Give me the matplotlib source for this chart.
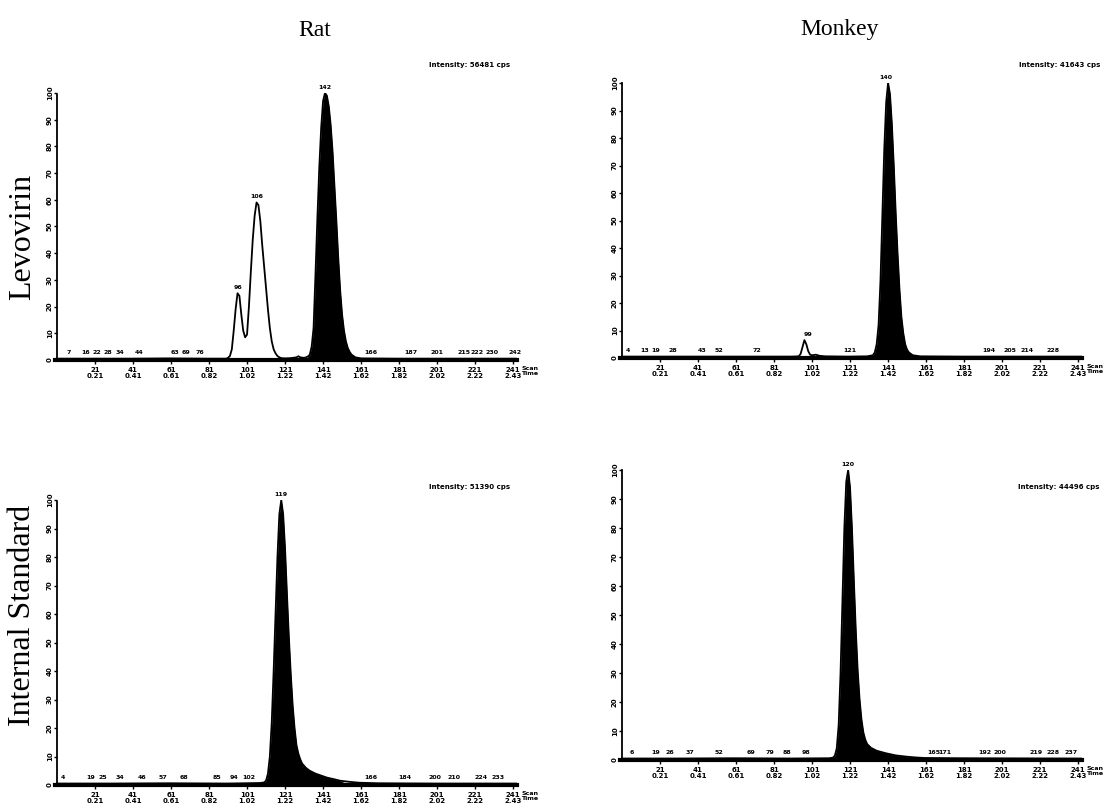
import matplotlib
matplotlib.use("Agg")
import matplotlib.pyplot as plt

W, H = 1105, 811

# ---------------- data ----------------
col_titles = ["Rat", "Monkey"]
row_titles = ["Levovirin", "Internal Standard"]

scan_ticks = [21, 41, 61, 81, 101, 121, 141, 161, 181, 201, 221, 241]
time_ticks = ["0.21", "0.41", "0.61", "0.82", "1.02", "1.22", "1.42", "1.62", "1.82", "2.02", "2.22", "2.43"]
y_ticks = [0, 10, 20, 30, 40, 50, 60, 70, 80, 90, 100]

# Rat - Levovirin
rat_lev_scan = [1, 20, 40, 60, 80, 90, 91, 92, 93, 94, 95, 96, 97, 98, 99, 100, 101, 102, 103, 104, 105,
                106, 107, 108, 109, 110, 111, 112, 113, 114, 115, 116, 117, 118, 119, 121, 124, 127, 128,
                129, 131, 132, 133, 134, 135, 136, 137, 138, 139, 140, 141, 142, 143, 144, 145, 146, 147,
                148, 149, 150, 151, 152, 153, 154, 155, 156, 158, 161, 180, 200, 220, 243]
rat_lev_int = [0.5, 0.5, 0.5, 0.6, 0.5, 0.5, 0.8, 1.5, 4, 11, 19, 25, 24, 17, 11, 8.5, 9.5, 20, 33, 45, 54,
               59, 58, 52, 43, 35, 27, 19, 12, 7, 4, 2.5, 1.5, 1.0, 0.7, 0.6, 0.7, 1.0, 1.4,
               1.0, 0.8, 1.0, 1.3, 2, 5, 12, 32, 53, 72, 87, 97, 100, 99, 95, 88, 78, 65,
               52, 38, 26, 17, 11, 7, 4.5, 3, 2, 1, 0.6, 0.5, 0.5, 0.5, 0.5]
rat_lev_fill = (133, 158)
rat_lev_peaks = [7, 16, 22, 28, 34, 44, 63, 69, 76, 166, 187, 201, 215, 222, 230, 242]
rat_lev_apex = [(96, 25), (106, 59), (142, 100)]
rat_lev_intensity = "Intensity: 56481 cps"

# Monkey - Levovirin
mky_lev_scan = [1, 30, 60, 90, 94, 95, 96, 97, 98, 99, 100, 101, 103, 105, 108, 120, 130, 133, 134, 135,
                136, 137, 138, 139, 140, 141, 142, 143, 144, 145, 146, 147, 148, 149, 150, 151, 152, 154,
                158, 180, 210, 243]
mky_lev_int = [0.5, 0.5, 0.5, 0.5, 0.6, 1.5, 4, 6.5, 5, 2.5, 1.2, 1.0, 1.2, 0.8, 0.6, 0.5, 0.6, 1, 2, 5,
               12, 28, 52, 76, 93, 100, 96, 85, 70, 53, 38, 25, 15, 9, 5, 3, 2, 1,
               0.6, 0.5, 0.5, 0.5]
mky_lev_fill = (132, 156)
mky_lev_peaks = [4, 13, 19, 28, 43, 52, 72, 121, 194, 205, 214, 228]
mky_lev_apex = [(99, 6.5), (140, 100)]
mky_lev_intensity = "Intensity: 41643 cps"

# Rat - Internal Standard
rat_is_scan = [1, 30, 60, 90, 100, 108, 110, 111, 112, 113, 114, 115, 116, 117, 118, 119, 120, 121, 122,
               123, 124, 125, 126, 127, 128, 129, 130, 132, 134, 137, 140, 143, 147, 150, 155, 160, 170,
               200, 243]
rat_is_int = [0.5, 0.5, 0.6, 0.5, 0.6, 0.7, 0.9, 1.5, 4, 10, 22, 40, 60, 80, 95, 100, 95, 83, 67,
              52, 39, 28, 20, 14, 11, 9, 7.5, 6, 5, 4, 3.3, 2.6, 2, 1.5, 1.1, 0.8, 0.6,
              0.5, 0.5]
rat_is_fill = (110, 152)
rat_is_peaks = [4, 19, 25, 34, 46, 57, 68, 85, 94, 102, 166, 184, 200, 210, 224, 233]
rat_is_apex = [(119, 100)]
rat_is_intensity = "Intensity: 51390 cps"

# Monkey - Internal Standard
mky_is_scan = [1, 30, 60, 90, 110, 112, 113, 114, 115, 116, 117, 118, 119, 120, 121, 122, 123, 124, 125,
               126, 127, 128, 129, 130, 132, 135, 140, 145, 150, 155, 160, 180, 243]
mky_is_int = [0.5, 0.5, 0.6, 0.5, 0.6, 0.8, 1.5, 4, 12, 30, 55, 80, 96, 100, 94, 80, 62, 45, 31,
              21, 14, 9.5, 7, 5.5, 4.2, 3.2, 2.3, 1.6, 1.2, 0.9, 0.7, 0.6, 0.5]
mky_is_fill = (112, 160)
mky_is_peaks = [6, 19, 26, 37, 52, 69, 79, 88, 98, 165, 171, 192, 200, 219, 228, 237]
mky_is_apex = [(120, 100)]
mky_is_intensity = "Intensity: 44496 cps"

# ---------------- layout (pixels) ----------------
# box = (left, right, top, bottom), inten_xy = right edge / vertical centre of intensity note
panels = [
    dict(box=(55, 517, 93, 360), inten_xy=(510, 65), scan=rat_lev_scan, val=rat_lev_int,
         fill=rat_lev_fill, peaks=rat_lev_peaks, apex=rat_lev_apex, inten=rat_lev_intensity),
    dict(box=(620, 1082, 83, 358), inten_xy=(1100, 65), scan=mky_lev_scan, val=mky_lev_int,
         fill=mky_lev_fill, peaks=mky_lev_peaks, apex=mky_lev_apex, inten=mky_lev_intensity),
    dict(box=(55, 517, 500, 785), inten_xy=(510, 487), scan=rat_is_scan, val=rat_is_int,
         fill=rat_is_fill, peaks=rat_is_peaks, apex=rat_is_apex, inten=rat_is_intensity),
    dict(box=(620, 1082, 470, 760), inten_xy=(1100, 487), scan=mky_is_scan, val=mky_is_int,
         fill=mky_is_fill, peaks=mky_is_peaks, apex=mky_is_apex, inten=mky_is_intensity),
]

fig = plt.figure(figsize=(W / 100, H / 100), dpi=100)
fig.patch.set_facecolor("white")

serif = ["Liberation Serif", "DejaVu Serif"]
small = dict(fontsize=5, fontweight="bold", family="DejaVu Sans")
tiny = dict(fontsize=4.5, fontweight="bold", family="DejaVu Sans")

for p in panels:
    l, r, t, b = p["box"]
    ax = fig.add_axes([l / W, 1 - b / H, (r - l) / W, (b - t) / H])
    xs, ys = p["scan"], p["val"]
    ax.plot(xs, ys, color="black", lw=1.3, solid_joinstyle="round")
    f0, f1 = p["fill"]
    ax.fill_between(xs, 0, ys, where=[f0 <= s <= f1 for s in xs], color="black", lw=0, interpolate=True)
    ax.set_xlim(0, 243)
    ax.set_ylim(0, 100)

    for side in ("top", "right"):
        ax.spines[side].set_visible(False)
    ax.spines["left"].set_linestyle((0, (1, 1)))
    ax.spines["left"].set_linewidth(1.3)
    ax.spines["left"].set_position(("data", 1))
    ax.spines["bottom"].set_linewidth(3)

    ax.set_yticks(y_ticks)
    ax.set_yticklabels([str(v) for v in y_ticks], rotation=90, va="center", **small)
    ax.tick_params(axis="y", length=2, width=1, pad=1)
    ax.set_xticks(scan_ticks)
    ax.set_xticklabels([f"{s}\n{tm}" for s, tm in zip(scan_ticks, time_ticks)], linespacing=1.1, **small)
    ax.tick_params(axis="x", length=3, width=1, pad=2)

    ax.annotate("Scan\nTime", xy=(1, 0), xycoords="axes fraction", xytext=(3, -4),
                textcoords="offset points", ha="left", va="top", linespacing=1.1, **tiny)
    ix, iy = p["inten_xy"]
    fig.text(ix / W, 1 - iy / H, p["inten"], ha="right", va="center", **small)

    for s in p["peaks"]:
        ax.text(s, 1.8, str(s), ha="center", va="bottom", clip_on=False, **tiny)
    for s, v in p["apex"]:
        ax.text(s, v + 1.2, str(s), ha="center", va="bottom", clip_on=False, **tiny)

# column and row titles
fig.text(315 / W, 1 - 30 / H, col_titles[0], ha="center", va="center", family=serif, fontsize=17)
fig.text(840 / W, 1 - 30 / H, col_titles[1], ha="center", va="center", family=serif, fontsize=17)
fig.text(23 / W, 1 - 237 / H, row_titles[0], ha="center", va="center", rotation=90, family=serif, fontsize=23)
fig.text(23 / W, 1 - 615 / H, row_titles[1], ha="center", va="center", rotation=90, family=serif, fontsize=23)

fig.savefig("out.png", dpi=100, facecolor="white")
